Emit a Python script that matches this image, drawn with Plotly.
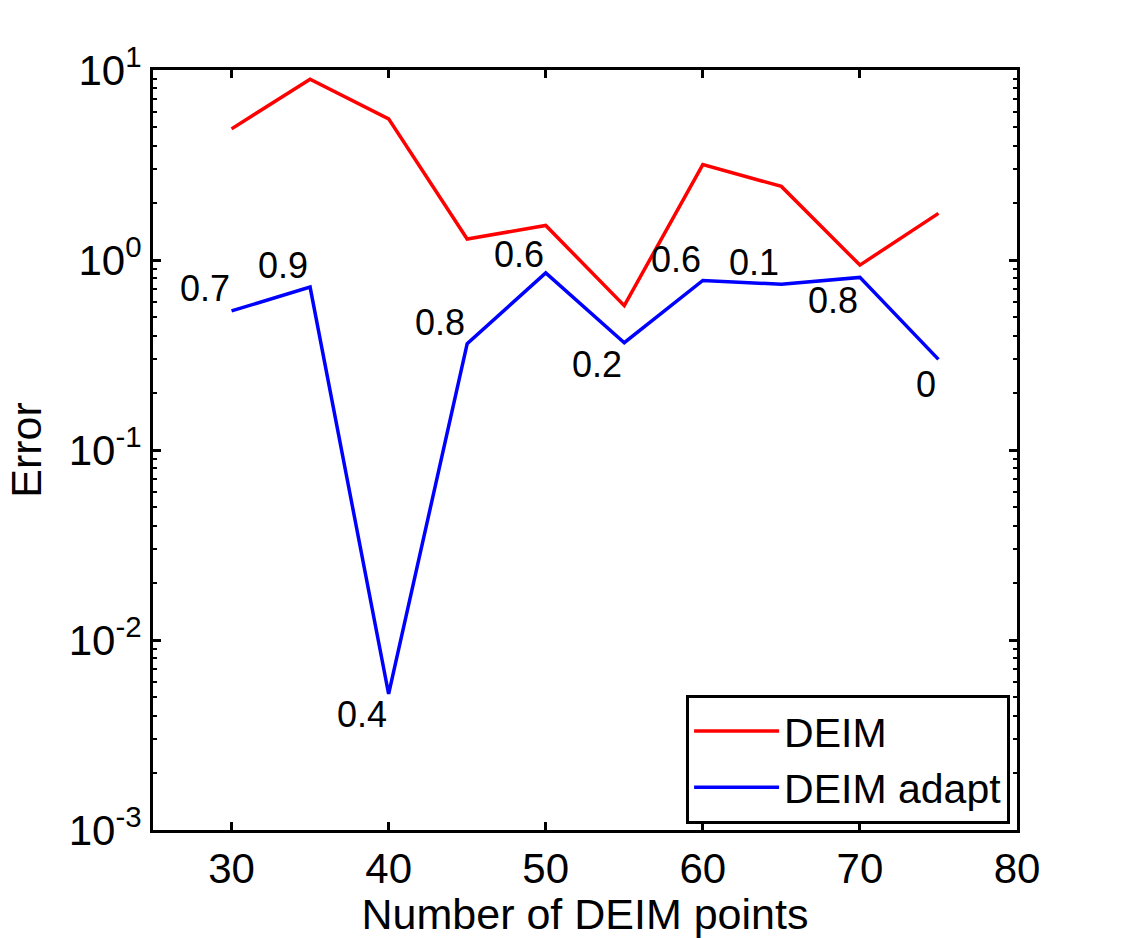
import plotly.graph_objects as go
import math

x_points = [30, 35, 40, 45, 50, 55, 60, 65, 70, 75]
deim_err = [4.90, 8.95, 5.53, 1.29, 1.52, 0.575, 3.18, 2.44, 0.94, 1.76]
adapt_err = [0.54, 0.72, 0.0052, 0.363, 0.855, 0.367, 0.78, 0.745, 0.81, 0.30]
adapt_labels = ["0.7", "0.9", "0.4", "0.8", "0.6", "0.2", "0.6", "0.1", "0.8", "0"]
label_shift = [22, 22, -21, 21, 18, -22, 21, 22, -23, -25]

ytick_vals = [1e-3, 1e-2, 1e-1, 1e0, 1e1]
ytick_text = ["10<sup>-3</sup>", "10<sup>-2</sup>", "10<sup>-1</sup>", "10<sup>0</sup>", "10<sup>1</sup>"]
xtick_vals = [30, 40, 50, 60, 70, 80]

FONT = "Liberation Sans, Arial, Helvetica, sans-serif"

fig = go.Figure()
fig.add_trace(go.Scatter(x=x_points, y=deim_err, mode="lines", name="DEIM",
                         line=dict(color="#FF0000", width=3.5)))
fig.add_trace(go.Scatter(x=x_points, y=adapt_err, mode="lines", name="DEIM adapt",
                         line=dict(color="#0000FF", width=3.5)))

for xv, yv, lab, sh in zip(x_points, adapt_err, adapt_labels, label_shift):
    fig.add_annotation(x=xv, y=math.log10(yv), text=lab, showarrow=False,
                       xanchor="right", yanchor="middle", yshift=sh,
                       font=dict(size=36, color="black", family=FONT))

fig.update_layout(
    width=1125, height=938,
    margin=dict(l=153, r=108, t=70, b=105),
    paper_bgcolor="white", plot_bgcolor="white",
    font=dict(family=FONT, size=42, color="black"),
    showlegend=True,
    legend=dict(x=0.992, y=0.008, xanchor="right", yanchor="bottom",
                bgcolor="white", bordercolor="black", borderwidth=3,
                font=dict(size=41, family=FONT), tracegroupgap=0,
                itemwidth=85),
    xaxis=dict(range=[25, 80], tickvals=xtick_vals, ticks="inside", ticklen=8,
               tickwidth=3, tickcolor="black", showline=True, linecolor="black",
               linewidth=3, mirror="ticks", showgrid=False, zeroline=False,
               tickfont=dict(size=42), ticklabelstandoff=0,
               title=dict(text="Number of DEIM points", font=dict(size=43), standoff=3)),
    yaxis=dict(type="log", range=[-3, 1], tickvals=ytick_vals, ticktext=ytick_text,
               ticks="inside", ticklen=8, tickwidth=3, tickcolor="black",
               showline=True, linecolor="black", linewidth=3, mirror="ticks",
               showgrid=False, zeroline=False, tickfont=dict(size=42),
               minor=dict(ticks="inside", ticklen=4, tickwidth=2, tickcolor="black",
                          dtick="D1", showgrid=False),
               title=dict(text="Error", font=dict(size=43), standoff=14)),
)

fig.write_html("out.html")
